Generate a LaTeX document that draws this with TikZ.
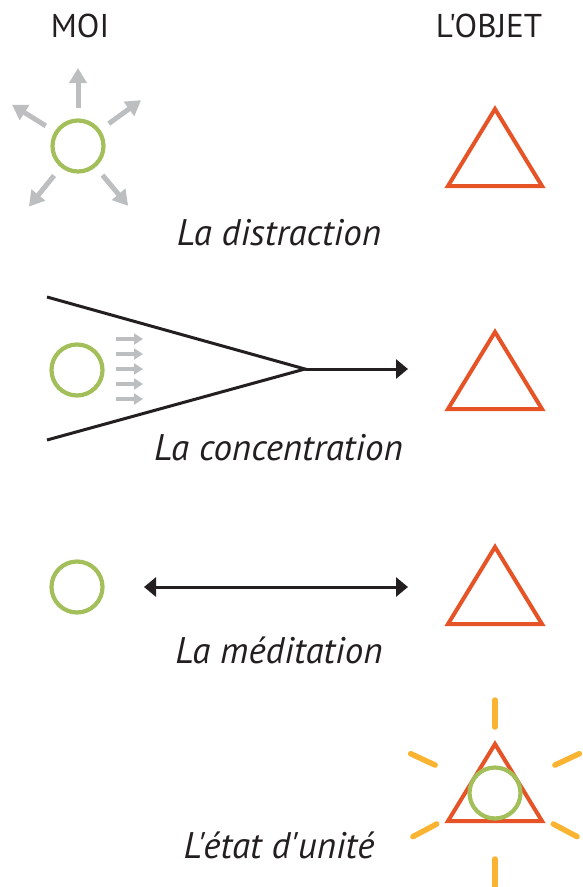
\documentclass[tikz,border=0pt]{standalone}
\usepackage{fontspec}
\setmainfont{PT Sans}[Ligatures=TeXOff]
\usetikzlibrary{arrows.meta,calc}

\definecolor{moigreen}{HTML}{A2BF5A}
\definecolor{objred}{HTML}{E55326}
\definecolor{raygold}{HTML}{FBB431}
\definecolor{flowgrey}{HTML}{BCBEC0}
\definecolor{ink}{HTML}{231F20}

\tikzset{
  heading/.style={anchor=base, inner sep=0pt, text=ink, font=\fontsize{33}{35}\selectfont},
  caption/.style={anchor=base, inner sep=0pt, text=ink, font=\fontsize{37}{39}\selectfont\itshape},
  moi/.style={circle, draw=moigreen, line width=4.2pt, minimum size=51pt, inner sep=0pt},
  tri/.style={draw=objred, line width=4pt, line join=miter},
  scatter/.style={draw=flowgrey, line width=5pt, -{Triangle[length=15pt,width=17pt]}},
  focus/.style={draw=flowgrey, line width=4.5pt, -{Triangle[length=9pt,width=11pt]}},
  beam/.style={draw=ink, line width=3pt},
  link/.style={beam, -{Triangle[length=12pt,width=19pt]}},
  bothlink/.style={beam, {Triangle[length=12pt,width=19pt]}-{Triangle[length=12pt,width=19pt]}},
  ray/.style={draw=raygold, line width=5.5pt, line cap=round},
  objet/.pic={\draw[tri] (-47,0) -- (47,0) -- (0,-77) -- cycle;}
}

\begin{document}
\begin{tikzpicture}[x=1pt, y=-1pt]
\useasboundingbox (0,0) rectangle (583,887);

% column headings
\node[heading] (hMoi) at (80,37) {MOI};
\node[heading] (hObjet) at (489,37) {L'OBJET};

% --- la distraction ---
\node[moi] (moiA) at (78,146) {};
\foreach \a in {90,148,36,231,310}
  \draw[scatter] ($(moiA)+(-\a:38)$) -- ($(moiA)+(-\a:78)$);
\coordinate (objA) at (495,186);
\pic at (objA) {objet};
\node[caption] (cA) at (279,245) {La distraction};

% --- la concentration ---
\node[moi] (moiB) at (77,370) {};
\coordinate (funTop) at (47,297);
\coordinate (funBot) at (47,440);
\coordinate (funTip) at (305,369);
\coordinate (objBend) at (408,369);
\draw[beam] (funTop) -- (funTip) -- (funBot);
\draw[link] (funTip) -- (objBend);
\foreach \dy in {-31,-16,-1,14,29}
  \draw[focus] ($(moiB)+(39,\dy)$) -- ($(moiB)+(66,\dy)$);
\coordinate (objB) at (495,409);
\pic at (objB) {objet};
\node[caption] (cB) at (278.5,460) {La concentration};

% --- la méditation ---
\node[moi] (moiC) at (77,587) {};
\coordinate (medL) at (144,587);
\coordinate (medR) at (408,587);
\draw[bothlink] (medL) -- (medR);
\coordinate (objC) at (495,624);
\pic at (objC) {objet};
\node[caption] (cC) at (279,663) {La méditation};

% --- l'état d'unité ---
\coordinate (sun) at (495,793);
\foreach \a in {90,270,155,25,208,332}
  \draw[ray] ($(sun)+(-\a:66)$) -- ($(sun)+(-\a:93)$);
\coordinate (objD) at (495,821);
\pic at (objD) {objet};
\node[moi] (moiD) at (495,793) {};
\node[caption] (cD) at (279,858) {L'état d'unité};
\end{tikzpicture}
\end{document}
